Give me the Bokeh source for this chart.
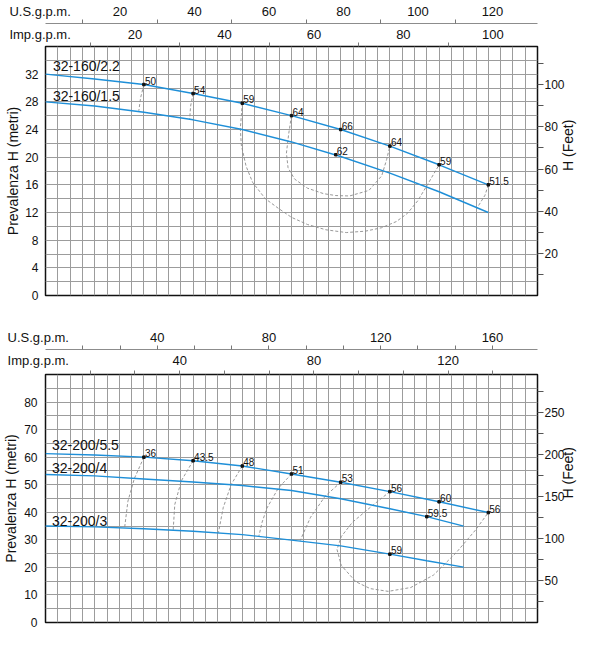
import math
from bokeh.plotting import figure
from bokeh.models import LinearAxis, Range1d, FixedTicker, SingleIntervalTicker, Label
from bokeh.layouts import column
from bokeh.embed import file_html
from bokeh.resources import INLINE
from bokeh.core.properties import value

US_PER_M3H = 4.402868
IMP_PER_M3H = 3.666154
FT_PER_M = 1 / 0.3048

# ---------------- 32-160 (top chart): Q in m3/h, H in m ----------------
q_160 = [0, 3, 6, 9, 12, 15, 18, 21, 24, 27]
h_160_22 = [32.0, 31.3, 30.5, 29.2, 27.8, 26.0, 24.0, 21.6, 18.9, 16.0]
h_160_15 = [28.0, 27.4, 26.5, 25.4, 24.0, 22.2, 20.1, 17.7, 15.0, 12.0]

eff_160_q = [6.0, 9.0, 12.0, 15.0, 18.0, 21.0, 24.0, 27.0, 17.7]
eff_160_h = [30.5, 29.2, 27.8, 26.0, 24.0, 21.6, 18.9, 16.0, 20.35]
eff_160_lbl = ["50", "54", "59", "64", "66", "64", "59", "51.5", "62"]

iso160_50_q = [6.0, 5.8, 5.69]
iso160_50_h = [30.5, 28.6, 26.7]
iso160_54_q = [9.0, 8.85, 8.79]
iso160_54_h = [29.2, 27.4, 25.5]
iso160_59_q = [12.0, 11.88, 11.94, 12.23, 12.63, 13.4, 14.2, 15.0, 15.97, 17.1, 18.34, 19.5, 20.5, 21.4, 22.08, 22.7, 23.26, 24.0]
iso160_59_h = [27.8, 24.1, 21.75, 18.7, 16.35, 14.0, 12.6, 11.3, 10.27, 9.5, 9.1, 9.3, 9.8, 10.7, 11.9, 13.7, 15.9, 18.9]
iso160_64_q = [15.0, 14.83, 14.69, 14.79, 15.19, 15.97, 16.96, 17.7, 18.54, 19.72, 20.5, 20.8, 21.0]
iso160_64_h = [26.0, 23.39, 20.57, 18.47, 16.83, 15.52, 14.72, 14.45, 14.39, 15.19, 17.3, 19.65, 21.6]
iso160_515_q = [27.0, 26.8, 26.3]
iso160_515_h = [16.0, 14.5, 12.6]

# ---------------- 32-200 (bottom chart) ----------------
q_200_55 = [0, 4, 8, 12, 16, 20, 24, 28, 32, 36]
h_200_55 = [61.3, 60.8, 60.0, 58.7, 56.8, 53.9, 50.9, 47.5, 43.8, 39.9]
q_200_4 = [0, 4, 8, 12, 16, 20, 24, 28, 31, 34]
h_200_4 = [53.7, 53.2, 52.1, 51.0, 49.7, 47.9, 44.9, 41.3, 38.4, 35.0]
q_200_3 = [0, 4, 8, 12, 16, 20, 24, 28, 31, 34]
h_200_3 = [35.0, 34.7, 34.0, 33.1, 31.9, 29.9, 27.8, 24.8, 22.4, 20.1]

eff_200_q = [8.0, 12.0, 16.0, 20.0, 24.0, 28.0, 32.0, 36.0, 31.0, 28.0]
eff_200_h = [60.0, 58.7, 56.8, 53.9, 50.9, 47.5, 43.8, 39.9, 38.4, 24.8]
eff_200_lbl = ["36", "43.5", "48", "51", "53", "56", "60", "56", "59.5", "59"]

iso200_36_q = [8.0, 7.22, 6.70, 6.43]
iso200_36_h = [60.0, 52.2, 44.0, 34.3]
iso200_435_q = [12.0, 11.04, 10.51, 10.38]
iso200_435_h = [58.7, 51.4, 42.8, 33.5]
iso200_48_q = [16.0, 15.1, 14.45, 14.06]
iso200_48_h = [56.8, 50.1, 41.7, 32.6]
iso200_51_q = [20.0, 18.92, 18.0, 17.61, 17.35]
iso200_51_h = [53.9, 48.7, 41.5, 36.4, 31.4]
iso200_53_q = [24.0, 22.73, 21.55, 20.7]
iso200_53_h = [50.9, 45.8, 38.2, 29.7]
iso200_56_q = [28.0, 26.68, 24.96, 24.05, 23.7, 24.05, 25.23, 26.4, 27.86, 29.7, 31.54, 33.38, 34.95, 36.0]
iso200_56_h = [47.5, 42.8, 36.4, 31.2, 26.5, 20.7, 14.8, 12.3, 11.3, 12.7, 17.2, 25.3, 33.5, 39.9]

# ---------------- tick values and axis titles ----------------
top_us_ticks = [20, 40, 60, 80, 100, 120]
top_us_minor = [10, 30, 50, 70, 90, 110]
top_imp_ticks = [20, 40, 60, 80, 100]
top_imp_minor = [10, 30, 50, 70, 90]
top_left_ticks = [0, 4, 8, 12, 16, 20, 24, 28, 32]
top_ft_ticks = [20, 40, 60, 80, 100]
top_ft_minor = [10, 30, 50, 70, 90, 110]

bot_us_ticks = [40, 80, 120, 160]
bot_us_minor = [13.33, 26.67, 40, 53.33, 66.67, 80, 93.33, 106.67, 120, 133.33, 146.67, 160]
bot_imp_ticks = [40, 80, 120]
bot_imp_minor = [13.33, 26.67, 40, 53.33, 66.67, 80, 93.33, 106.67, 120, 133.33]
bot_left_ticks = [0, 10, 20, 30, 40, 50, 60, 70, 80]
bot_ft_ticks = [50, 100, 150, 200, 250]
bot_ft_minor = [25, 75, 125, 175, 225, 275]

US_TITLE = "U.S.g.p.m."
IMP_TITLE = "Imp.g.p.m."
H_TITLE = "Prevalenza H (metri)"
FT_TITLE = "H (Feet)"
NBSP = "\u00a0"

FONT = "Liberation Sans"
BLUE = "#1e8fd8"
GRID = "#9c9c9c"
ISO = "#8c8c8c"
INK = "#111111"
FIG_W = 586


def make_fig(height, q_max, h_max, borders, grid_dx, grid_dy):
    p = figure(width=FIG_W, height=height, x_range=Range1d(0, q_max), y_range=Range1d(0, h_max),
               x_axis_location=None, output_backend="svg", toolbar_location=None,
               min_border_left=borders[0], min_border_right=borders[1],
               min_border_top=borders[2], min_border_bottom=borders[3])
    p.outline_line_color = INK
    p.outline_line_width = 1.5
    p.xgrid.ticker = SingleIntervalTicker(interval=grid_dx)
    p.ygrid.ticker = SingleIntervalTicker(interval=grid_dy)
    p.xgrid.grid_line_color = GRID
    p.ygrid.grid_line_color = GRID
    return p


def spacer(p, side, size, range_kw):
    ax = LinearAxis(ticker=FixedTicker(ticks=[]), axis_line_color=None,
                    major_tick_out=size, major_tick_in=0, minor_tick_out=0, minor_tick_in=0,
                    major_tick_line_color=None, minor_tick_line_color=None,
                    major_label_standoff=0, **range_kw)
    p.add_layout(ax, side)


def num_axis(ax, size):
    ax.major_label_text_font = FONT
    ax.major_label_text_font_size = size
    ax.major_label_text_color = INK


def add_top_axes(p, q_max, us_t, us_m, us_pad, imp_t, imp_m, imp_pad, imp_stand, gap, outer):
    p.extra_x_ranges = {"imp": Range1d(0, q_max * IMP_PER_M3H), "us": Range1d(0, q_max * US_PER_M3H)}
    # the unit title sits at the start of each scale (value 0), shifted left by trailing spaces
    imp_ax = LinearAxis(x_range_name="imp", ticker=FixedTicker(ticks=[0] + imp_t, minor_ticks=imp_m),
                        major_label_overrides={0: IMP_TITLE + NBSP * imp_pad})
    us_ax = LinearAxis(x_range_name="us", ticker=FixedTicker(ticks=[0] + us_t, minor_ticks=us_m),
                       major_label_overrides={0: US_TITLE + NBSP * us_pad})
    for ax in (imp_ax, us_ax):
        num_axis(ax, "13px")
        ax.major_tick_in = 0
        ax.major_tick_out = 4
        ax.major_tick_line_color = None
        ax.minor_tick_in = 0
        ax.minor_tick_out = 4
        ax.minor_tick_line_color = "#777777"
    imp_ax.axis_line_color = None
    us_ax.axis_line_color = "#8c8c8c"
    imp_ax.major_label_standoff = imp_stand
    us_ax.major_label_standoff = 1
    p.add_layout(imp_ax, "above")
    spacer(p, "above", gap, {"x_range_name": "us"})
    p.add_layout(us_ax, "above")
    if outer > 0:
        spacer(p, "above", outer, {"x_range_name": "us"})


def add_side_axes(p, h_max, left_t, ft_t, ft_m, left_stand, left_lab_stand, left_pad,
                  ft_stand, ttl_stand, right_pad):
    ly = p.yaxis[0]
    ly.ticker = FixedTicker(ticks=left_t)
    ly.axis_label = H_TITLE
    num_axis(ly, "12px")
    ly.axis_label_text_font = FONT
    ly.axis_label_text_font_size = "14px"
    ly.axis_label_text_font_style = "normal"
    ly.axis_label_text_color = INK
    ly.axis_line_color = None
    ly.major_tick_out = 0
    ly.major_tick_in = 0
    ly.minor_tick_out = 0
    ly.minor_tick_in = 0
    ly.major_label_standoff = left_stand
    ly.axis_label_standoff = left_lab_stand
    if left_pad > 0:
        spacer(p, "left", left_pad, {})

    p.extra_y_ranges = {"ft": Range1d(0, h_max * FT_PER_M), "ttl": Range1d(0, 2)}
    ry = LinearAxis(y_range_name="ft", ticker=FixedTicker(ticks=ft_t, minor_ticks=ft_m))
    num_axis(ry, "12px")
    ry.axis_line_color = None
    ry.major_tick_in = 0
    ry.major_tick_out = 6
    ry.minor_tick_in = 0
    ry.minor_tick_out = 6
    ry.major_tick_line_color = "#555555"
    ry.minor_tick_line_color = "#555555"
    ry.major_label_standoff = ft_stand
    p.add_layout(ry, "right")

    ttl = LinearAxis(y_range_name="ttl", ticker=FixedTicker(ticks=[1]),
                     major_label_overrides={1: FT_TITLE}, major_label_orientation=math.pi / 2,
                     axis_line_color=None, major_tick_out=0, major_tick_in=0,
                     minor_tick_out=0, minor_tick_in=0, major_label_standoff=ttl_stand)
    ttl.major_label_text_font = FONT
    ttl.major_label_text_font_size = "14px"
    ttl.major_label_text_color = INK
    p.add_layout(ttl, "right")
    if right_pad > 0:
        spacer(p, "right", right_pad, {"y_range_name": "ft"})


def draw_iso(p, qs, hs):
    p.line(qs, hs, line_color=ISO, line_width=0.9, line_dash="3 2")


def draw_eff(p, qs, hs, labels):
    p.scatter(qs, hs, size=2.5, color=INK, marker="square")
    p.text(qs, hs, text=labels, text_font=value(FONT), text_font_size="10px",
           text_baseline="bottom", text_align="left", x_offset=1, text_color=INK)


def curve_label(p, x, y, txt):
    p.add_layout(Label(x=x, y=y, text=txt, text_font=FONT, text_font_size="14px",
                       text_baseline="middle", text_align="left", text_color=INK))


# ---------------- top figure ----------------
p1 = make_fig(310, 30, 36, (37, 43, 41, 15), 0.75, 2)
add_top_axes(p1, 30, top_us_ticks, top_us_minor, 3, top_imp_ticks, top_imp_minor, 3, 1, 2, 0)
add_side_axes(p1, 36, top_left_ticks, top_ft_ticks, top_ft_minor, 7, 1, 0, 1, 0, 0)
for qs, hs in [(iso160_50_q, iso160_50_h), (iso160_54_q, iso160_54_h), (iso160_59_q, iso160_59_h),
               (iso160_64_q, iso160_64_h), (iso160_515_q, iso160_515_h)]:
    draw_iso(p1, qs, hs)
p1.line(q_160, h_160_22, line_color=BLUE, line_width=1.4)
p1.line(q_160, h_160_15, line_color=BLUE, line_width=1.4)
draw_eff(p1, eff_160_q, eff_160_h, eff_160_lbl)
curve_label(p1, 0.45, 33.2, "32-160/2.2")
curve_label(p1, 0.45, 28.8, "32-160/1.5")

# ---------------- bottom figure ----------------
p2 = make_fig(319, 40, 90, (39, 43, 64, 7), 1, 5)
add_top_axes(p2, 40, bot_us_ticks, bot_us_minor, 4, bot_imp_ticks, bot_imp_minor, 4, 3, 5, 18)
add_side_axes(p2, 90, bot_left_ticks, bot_ft_ticks, bot_ft_minor, 8, 2, 0, 1, 0, 0)
for qs, hs in [(iso200_36_q, iso200_36_h), (iso200_435_q, iso200_435_h), (iso200_48_q, iso200_48_h),
               (iso200_51_q, iso200_51_h), (iso200_53_q, iso200_53_h), (iso200_56_q, iso200_56_h)]:
    draw_iso(p2, qs, hs)
p2.line(q_200_55, h_200_55, line_color=BLUE, line_width=1.4)
p2.line(q_200_4, h_200_4, line_color=BLUE, line_width=1.4)
p2.line(q_200_3, h_200_3, line_color=BLUE, line_width=1.4)
draw_eff(p2, eff_200_q, eff_200_h, eff_200_lbl)
curve_label(p2, 0.52, 64.3, "32-200/5.5")
curve_label(p2, 0.52, 55.9, "32-200/4")
curve_label(p2, 0.52, 36.7, "32-200/3")

layout = column(p1, p2)
open("out.html", "w").write(file_html(layout, INLINE))
